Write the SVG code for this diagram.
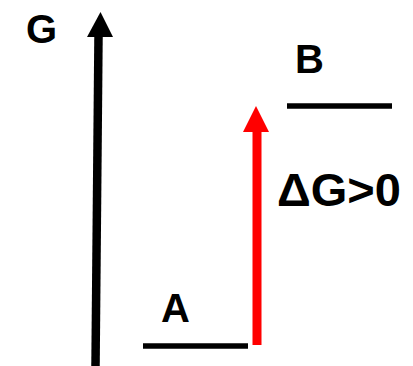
<svg xmlns="http://www.w3.org/2000/svg" width="413" height="366" viewBox="0 0 413 366">
<style>
text{font-family:"Liberation Sans",Arial,sans-serif;font-weight:bold;fill:#000}
.lvl{stroke:#000;stroke-width:5.3}
</style>
<rect width="413" height="366" fill="#fff"/>
<g id="axis">
<line x1="98.5" y1="36" x2="95.5" y2="366" stroke="#000" stroke-width="8.5"/>
<polygon points="100.5,12 87,37 113,37" fill="#000"/>
<text x="26" y="43" font-size="40">G</text>
</g>
<g id="A">
<line class="lvl" x1="143" y1="346" x2="248" y2="346"/>
<text x="161" y="322" font-size="40">A</text>
</g>
<g id="B">
<line class="lvl" x1="287" y1="106" x2="392" y2="106"/>
<text x="295" y="73" font-size="40">B</text>
</g>
<g id="connectors">
<line x1="257" y1="131" x2="257" y2="345" stroke="#f00" stroke-width="9"/>
<polygon points="256,106 243,132 269,132" fill="#f00"/>
<text x="277" y="206" font-size="47">ΔG&gt;0</text>
</g>
</svg>
